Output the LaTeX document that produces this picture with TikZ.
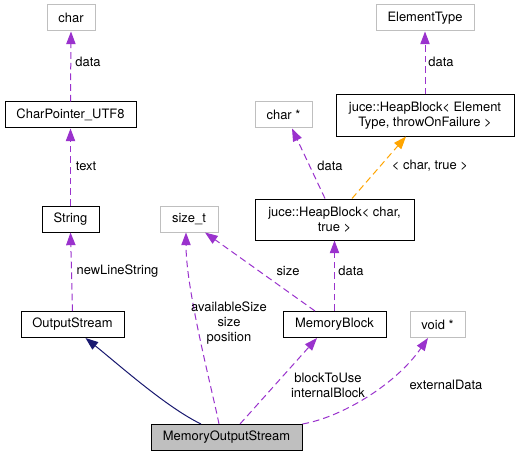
\documentclass[tikz,border=0pt]{standalone}
\usepackage{fontspec}
\setmainfont{TeX Gyre Heros}
\usetikzlibrary{arrows.meta,calc}
\definecolor{usecol}{HTML}{9A32CD}
\definecolor{tplcol}{HTML}{FFA500}
\definecolor{inhcol}{HTML}{191970}
\definecolor{extcol}{HTML}{BFBFBF}
\tikzset{
  cls/.style={draw=black,line width=0.75pt,inner sep=0pt,align=center},
  ext/.style={draw=extcol,line width=0.75pt,inner sep=0pt,align=center},
  sz/.style 2 args={minimum width=#1*0.75pt,minimum height=#2*0.75pt},
  tip/.style={-{Triangle[length=9.5pt,width=7pt]}},
  uses/.style={usecol,line width=0.75pt,dash pattern=on 5pt off 3pt,tip},
  tpl/.style={tplcol,line width=0.75pt,dash pattern=on 5pt off 3pt,tip},
  inh/.style={inhcol,line width=0.75pt,tip},
  lbl/.style={inner sep=0pt,align=center}
}
\begin{document}
\begin{tikzpicture}[x=0.75pt,y=-0.75pt,font=\fontsize{9.7}{11.2}\selectfont]
  \fill[white] (0,0) rectangle (520,456);
  \useasboundingbox (0,0) rectangle (520,456);
  % classes
  \node[ext,sz={48}{26}] (chr) at (71,18) {char};
  \node[cls,sz={131}{26}] (cp) at (70.5,115) {CharPointer\_UTF8};
  \node[cls,sz={57}{26}] (str) at (70.5,219) {String};
  \node[ext,sz={58}{26}] (szt) at (189,219) {size\_t};
  \node[ext,sz={57}{26}] (chs) at (283.5,115) {char *};
  \node[ext,sz={98}{26}] (et) at (425,18) {ElementType};
  \node[cls,sz={178}{41}] (hbe) at (425,115.5) {juce::HeapBlock< Element\\Type, throwOnFailure >};
  \node[cls,sz={159}{41}] (hbc) at (334.5,219.5) {juce::HeapBlock< char,\\true >};
  \node[cls,sz={103}{26}] (os) at (72.5,324.5) {OutputStream};
  \node[cls,sz={103}{26}] (mb) at (334.5,324.5) {MemoryBlock};
  \node[ext,sz={55}{26}] (vd) at (437.5,324.5) {void *};
  \node[cls,fill=extcol,sz={151}{26}] (mos) at (226.5,437.5) {MemoryOutputStream};
  % members
  \draw[uses] (cp.north) -- (chr.south);
  \draw[uses] (str.north) -- (cp.south);
  \draw[uses] (os.north) -- (str.south);
  \draw[uses] (hbe.north) -- (et.south);
  \draw[uses] ($(hbc.north)+(-9.5,0)$) -- ($(chs.south)+(8.5,0)$);
  \draw[tpl] ($(hbc.north)+(17.5,0)$) -- ($(hbe.south)+(-19,0)$);
  \draw[uses] (mb.north) -- (hbc.south);
  \draw[uses] ($(mb.north)+(-19.5,0)$) -- ($(szt.south)+(16,0)$);
  \draw[inh] ($(mos.north)+(-25.5,0)$) .. controls +(-35,-17) and +(32.5,26) .. ($(os.south)+(13,0)$);
  \draw[uses] ($(mos.north)+(-7.5,0)$) .. controls +(-7,-35) and +(0,58) .. ($(szt.south)+(-3,0)$);
  \draw[uses] ($(mos.north)+(13.5,0)$) -- ($(mb.south)+(-17.5,0)$);
  \draw[uses] (mos.north east) .. controls +(38,-6.5) and +(-33,47.5) .. ($(vd.south)+(-9.5,0)$);
  % labels
  \node[lbl] (l1) at (88,62) {data};
  \node[lbl] (l2) at (86,166) {text};
  \node[lbl] (l3) at (117.5,271) {newLineString};
  \node[lbl] (l4) at (441,62) {data};
  \node[lbl] (l5) at (330,166) {data};
  \node[lbl] (l6) at (430,166) {< char, true >};
  \node[lbl] (l7) at (351,271) {data};
  \node[lbl] (l8) at (288,271) {size};
  \node[lbl] (l9) at (229,323) {availableSize\\size\\position};
  \node[lbl] (l10) at (328,385) {blockToUse\\internalBlock};
  \node[lbl] (l11) at (446,385) {externalData};
\end{tikzpicture}
\end{document}
